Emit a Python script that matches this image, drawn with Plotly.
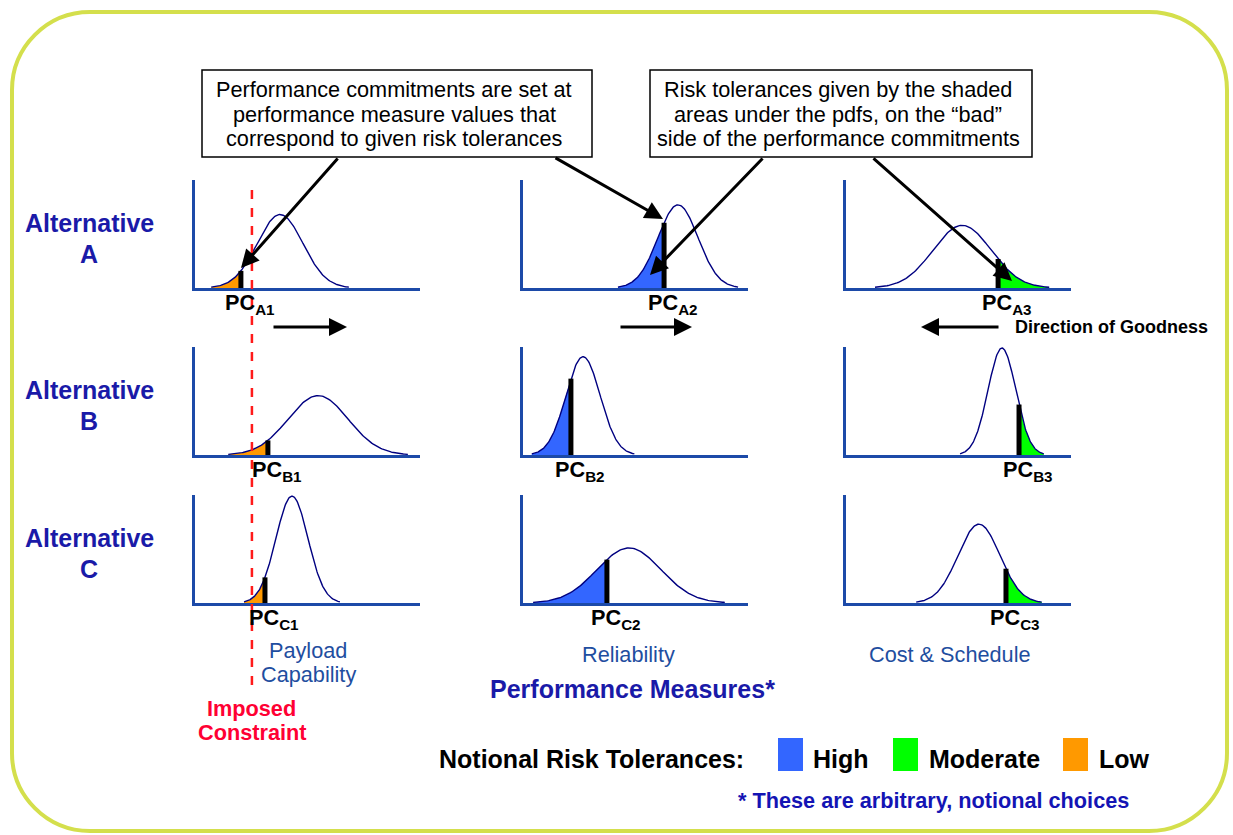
import numpy as np
import plotly.graph_objects as go

# panels run row by row: Alternative A, B, C  x  Payload, Reliability, Cost & Schedule
alternatives = ["A", "B", "C"]
measures = ["Payload<br>Capability", "Reliability", "Cost & Schedule"]
pdf_mean = [3.78, 6.89, 5.16, 5.47, 2.67, 6.93, 4.31, 4.71, 5.91]
pdf_sd = [1.02, 0.89, 1.29, 1.33, 0.76, 0.62, 0.71, 1.42, 0.93]
pdf_peak = [0.68, 0.77, 0.58, 0.55, 0.91, 0.99, 0.99, 0.51, 0.73]
pc_value = [2.04, 6.27, 6.76, 3.24, 2.13, 7.69, 3.11, 3.73, 7.11]
pc_names = ["A1", "A2", "A3", "B1", "B2", "B3", "C1", "C2", "C3"]
col_tolerance = ["Low", "High", "Moderate"]
col_bad_side = ["left", "left", "right"]
tolerance_names = ["High", "Moderate", "Low"]
constraint_value = 2.53  # payload capability units

callout_left = ["Performance commitments are set at",
                "performance measure values that",
                "correspond to given risk tolerances"]
callout_right = ["Risk tolerances given by the shaded",
                 "areas under the pdfs, on the \u201cbad\u201d",
                 "side of the performance commitments"]

TOL_COLOR = {"High": "#3366ff", "Moderate": "#00ff00", "Low": "#ff9900"}
FONT = "Arial, Liberation Sans, sans-serif"
AXIS_BLUE = "#1c4aa8"
CURVE = "#000080"
NAVY = "#1a1aa8"
W, H = 1233, 835

COL_LEFT = [195, 523, 846]
ROW_BASE = [288, 455, 603]
PW, PH = 225, 108


def fx(px):
    return px / W


def fy(py):
    return 1 - py / H


def text(x, y, s, size, color="black", bold=False, xanchor="center", yanchor="middle", **kw):
    return dict(x=fx(x), y=fy(y), xref="paper", yref="paper", text=s, showarrow=False,
                xanchor=xanchor, yanchor=yanchor,
                font=dict(family=FONT, size=size, color=color, weight="bold" if bold else "normal"),
                **kw)


def arrow(tail, head):
    return dict(x=fx(head[0]), y=fy(head[1]), xref="paper", yref="paper", text="",
                showarrow=True, ax=tail[0] - head[0], ay=tail[1] - head[1],
                arrowhead=2, arrowsize=1.2, arrowwidth=3, arrowcolor="black", standoff=0)


fig = go.Figure()
annotations = []
shapes = []

axis_style = dict(showline=True, linecolor=AXIS_BLUE, linewidth=3, showgrid=False,
                  zeroline=False, showticklabels=False, ticks="", fixedrange=True)

for k in range(9):
    r, c = divmod(k, 3)
    ax = "" if k == 0 else str(k + 1)
    x0, base = COL_LEFT[c], ROW_BASE[r]
    fig.update_layout({
        f"xaxis{ax}": dict(domain=[fx(x0), fx(x0 + PW)], range=[0, 10], anchor=f"y{ax}", **axis_style),
        f"yaxis{ax}": dict(domain=[fy(base), fy(base - PH)], range=[0, 1], anchor=f"x{ax}", **axis_style),
    })

    m, s, p, pc = pdf_mean[k], pdf_sd[k], pdf_peak[k], pc_value[k]

    def pdf(t):
        return p * np.exp(-0.5 * ((np.asarray(t) - m) / s) ** 2)

    xs = np.linspace(m - 3 * s, m + 3 * s, 160)
    if col_bad_side[c] == "left":
        xf = np.append(xs[xs < pc], pc)
    else:
        xf = np.insert(xs[xs > pc], 0, pc)

    fig.add_trace(go.Scatter(x=xf, y=pdf(xf), mode="lines", fill="tozeroy",
                             fillcolor=TOL_COLOR[col_tolerance[c]], line=dict(width=0),
                             xaxis=f"x{ax}", yaxis=f"y{ax}", hoverinfo="skip"))
    fig.add_trace(go.Scatter(x=xs, y=pdf(xs), mode="lines", line=dict(color=CURVE, width=1.4),
                             xaxis=f"x{ax}", yaxis=f"y{ax}"))
    fig.add_trace(go.Scatter(x=[pc, pc], y=[0, float(pdf(pc))], mode="lines",
                             line=dict(color="black", width=5),
                             xaxis=f"x{ax}", yaxis=f"y{ax}"))

    # PC label under the commitment bar
    annotations.append(dict(x=pc, xref=f"x{ax}", y=fy(base), yref="paper",
                            text=f"PC<sub>{pc_names[k]}</sub>", showarrow=False,
                            xanchor="left", yanchor="top", xshift=-18,
                            font=dict(family=FONT, size=21.7, color="black", weight="bold")))

# row labels
for r, alt in enumerate(alternatives):
    mid = ROW_BASE[r] - 50
    annotations.append(text(89, mid - 15, "Alternative", 25, NAVY, True))
    annotations.append(text(89, mid + 16, alt, 25, NAVY, True))

# measure names
annotations.append(text(308, 650, measures[0].split("<br>")[0], 21.7, "#1f4ea0"))
annotations.append(text(308, 674, measures[0].split("<br>")[1], 21.7, "#1f4ea0"))
annotations.append(text(628, 654, measures[1], 21.7, "#1f4ea0"))
annotations.append(text(950, 654, measures[2], 21.7, "#1f4ea0"))
annotations.append(text(632, 689, "Performance Measures*", 25, NAVY, True))

# imposed constraint
cx = COL_LEFT[0] + constraint_value / 10 * PW
shapes.append(dict(type="line", xref="paper", yref="paper", x0=fx(cx), x1=fx(cx),
                   y0=fy(190), y1=fy(690), line=dict(color="#ff1a1a", width=2.5, dash="dash")))
annotations.append(text(cx, 708, "Imposed", 21.7, "#ff0033", True))
annotations.append(text(cx, 732, "Constraint", 21.7, "#ff0033", True))

# callout boxes
for bx0, bx1, lines in [(202, 592, callout_left), (650, 1032, callout_right)]:
    shapes.append(dict(type="rect", xref="paper", yref="paper", x0=fx(bx0), x1=fx(bx1),
                       y0=fy(157), y1=fy(70), line=dict(color="black", width=1.5),
                       fillcolor="white"))
    for i, line in enumerate(lines):
        annotations.append(text((bx0 + bx1) / 2 - 3, 90 + 24 * i, line, 21.7))

annotations += [
    arrow((339, 157), (241, 268)),
    arrow((554, 157), (663, 219)),
    arrow((764, 157), (650, 275)),
    arrow((872, 157), (1012, 281)),
    arrow((272, 327), (347, 327)),
    arrow((619, 327), (692, 327)),
    arrow((1000, 327), (921, 327)),
]
annotations.append(text(1013, 327, "Direction of Goodness", 18, "black", True, xanchor="left"))

# legend
annotations.append(text(437, 759, "Notional Risk Tolerances:", 25, "black", True, xanchor="left"))
for name, sx, tx in zip(tolerance_names, [778, 893, 1063], [811, 927, 1097]):
    shapes.append(dict(type="rect", xref="paper", yref="paper", x0=fx(sx), x1=fx(sx + 25),
                       y0=fy(771), y1=fy(738), line=dict(width=0), fillcolor=TOL_COLOR[name]))
    annotations.append(text(tx, 759, name, 25, "black", True, xanchor="left"))
annotations.append(text(933, 800, "* These are arbitrary, notional choices", 21.7, "#1414b4", True))

# rounded border
bx0, by0, bx1, by1, rad = 12, 12, 1227, 831, 78
kk = 0.552 * rad


def P(x, y):
    return f"{fx(x):.5f},{fy(y):.5f}"


path = (f"M {P(bx0 + rad, by0)} L {P(bx1 - rad, by0)} "
        f"C {P(bx1 - rad + kk, by0)} {P(bx1, by0 + rad - kk)} {P(bx1, by0 + rad)} "
        f"L {P(bx1, by1 - rad)} "
        f"C {P(bx1, by1 - rad + kk)} {P(bx1 - rad + kk, by1)} {P(bx1 - rad, by1)} "
        f"L {P(bx0 + rad, by1)} "
        f"C {P(bx0 + rad - kk, by1)} {P(bx0, by1 - rad + kk)} {P(bx0, by1 - rad)} "
        f"L {P(bx0, by0 + rad)} "
        f"C {P(bx0, by0 + rad - kk)} {P(bx0 + rad - kk, by0)} {P(bx0 + rad, by0)} Z")
shapes.append(dict(type="path", xref="paper", yref="paper", path=path,
                   line=dict(color="#d4df4c", width=4), layer="below"))

fig.update_layout(
    width=W,
    height=H,
    margin=dict(l=0, r=0, t=0, b=0, pad=0),
    paper_bgcolor="white",
    plot_bgcolor="white",
    showlegend=False,
    annotations=annotations,
    shapes=shapes,
    font=dict(family=FONT),
)

# drop the browser's default 8px body margin so the figure sits at the page corner
fig.write_html("out.html", config={"displayModeBar": False},
               post_script="document.body.style.margin='0';document.body.style.overflow='hidden';")
